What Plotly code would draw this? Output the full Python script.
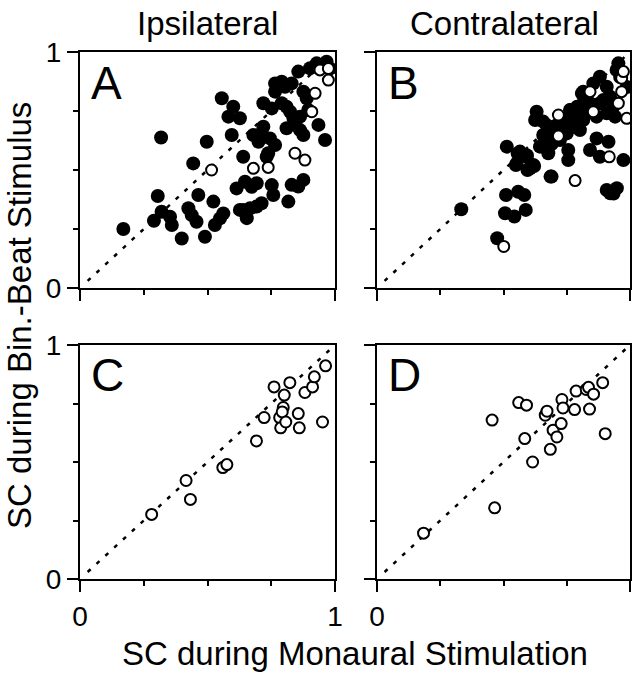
import plotly.graph_objects as go

# ---------------- data ----------------
col_titles = ["Ipsilateral", "Contralateral"]
panel_letters = ["A", "B", "C", "D"]
tick_vals = [0, 1]
tick_text = ["0", "1"]
minor_ticks = [0.25, 0.5, 0.75]
diag_x = [0.03, 0.985]
diag_y = [0.03, 0.985]

# Panel A (ipsilateral, top) filled
a_fill_x = [0.17, 0.29, 0.305, 0.318, 0.32, 0.353, 0.36, 0.399, 0.425, 0.438,
            0.457, 0.444, 0.464, 0.49, 0.497, 0.523, 0.529, 0.549, 0.562, 0.556,
            0.582, 0.601, 0.627, 0.595, 0.614, 0.64, 0.647, 0.673, 0.64, 0.667,
            0.693, 0.712, 0.752, 0.758, 0.732, 0.68, 0.719, 0.712, 0.745, 0.765,
            0.738, 0.719, 0.752, 0.791, 0.81, 0.824, 0.837, 0.863, 0.843, 0.81,
            0.863, 0.876, 0.935, 0.961, 0.765, 0.791, 0.804, 0.765, 0.83, 0.856,
            0.902, 0.928, 0.967, 0.889, 0.876, 0.817, 0.83, 0.856, 0.876, 0.693,
            0.98, 0.895, 0.654, 0.627, 0.7]
a_fill_y = [0.25, 0.285, 0.39, 0.638, 0.323, 0.302, 0.267, 0.21, 0.338, 0.309,
            0.281, 0.528, 0.394, 0.217, 0.62, 0.366, 0.267, 0.295, 0.316, 0.804,
            0.726, 0.768, 0.719, 0.648, 0.422, 0.556, 0.45, 0.429, 0.33, 0.338,
            0.345, 0.359, 0.436, 0.394, 0.556, 0.648, 0.683, 0.655, 0.634, 0.606,
            0.571, 0.783, 0.761, 0.783, 0.768, 0.747, 0.719, 0.726, 0.691, 0.677,
            0.669, 0.648, 0.691, 0.627, 0.867, 0.874, 0.853, 0.832, 0.867, 0.917,
            0.931, 0.952, 0.959, 0.804, 0.832, 0.366, 0.437, 0.43, 0.458, 0.444,
            0.93, 0.754, 0.296, 0.331, 0.62]
# Panel A open
a_open_x = [0.516, 0.68, 0.738, 0.843, 0.882, 0.909, 0.922, 0.941, 0.974, 0.974]
a_open_y = [0.5, 0.507, 0.511, 0.571, 0.542, 0.747, 0.825, 0.924, 0.93, 0.881]

# Panel B (contralateral, top) filled
b_fill_x = [0.333, 0.475, 0.51, 0.506, 0.543, 0.549, 0.558, 0.582, 0.588, 0.595,
            0.621, 0.686, 0.513, 0.565, 0.592, 0.552, 0.618, 0.605, 0.677, 0.69,
            0.756, 0.756, 0.631, 0.625, 0.657, 0.677, 0.657, 0.684, 0.644, 0.763,
            0.789, 0.815, 0.776, 0.802, 0.75, 0.829, 0.842, 0.881, 0.868, 0.895,
            0.855, 0.881, 0.908, 0.921, 0.934, 0.941, 0.947, 0.954, 0.908, 0.868,
            0.915, 0.842, 0.881, 0.974, 0.723, 0.737, 0.815, 0.908, 0.922, 0.948,
            0.935, 0.712, 0.732, 0.739, 0.765, 0.778, 0.791, 0.81, 0.817, 0.824,
            0.987, 0.961, 0.71, 0.7, 0.69, 0.671, 0.66, 0.556, 0.592, 0.745]
b_fill_y = [0.334, 0.211, 0.394, 0.317, 0.303, 0.521, 0.408, 0.394, 0.331, 0.5,
            0.517, 0.472, 0.599, 0.578, 0.556, 0.528, 0.521, 0.507, 0.571, 0.472,
            0.585, 0.542, 0.747, 0.712, 0.705, 0.669, 0.648, 0.627, 0.599, 0.754,
            0.726, 0.712, 0.683, 0.669, 0.655, 0.754, 0.783, 0.783, 0.726, 0.797,
            0.867, 0.895, 0.853, 0.811, 0.768, 0.726, 0.924, 0.952, 0.74, 0.634,
            0.62, 0.585, 0.556, 0.542, 0.627, 0.655, 0.832, 0.415, 0.401, 0.423,
            0.4, 0.683, 0.718, 0.669, 0.754, 0.711, 0.768, 0.824, 0.725, 0.796,
            0.852, 0.894, 0.69, 0.64, 0.61, 0.69, 0.648, 0.57, 0.563, 0.7]
# Panel B open
b_open_x = [0.501, 0.717, 0.717, 0.783, 0.842, 0.855, 0.918, 0.967, 0.967, 0.954, 0.987, 0.974]
b_open_y = [0.176, 0.733, 0.644, 0.455, 0.832, 0.747, 0.556, 0.889, 0.832, 0.783, 0.719, 0.917]

# Panel C (ipsilateral, bottom) open
c_open_x = [0.281, 0.416, 0.433, 0.56, 0.576, 0.692, 0.722, 0.761, 0.783, 0.787, 0.797,
            0.793, 0.801, 0.807, 0.823, 0.856, 0.86, 0.882, 0.912, 0.919, 0.951, 0.963]
c_open_y = [0.276, 0.421, 0.34, 0.476, 0.489, 0.59, 0.69, 0.821, 0.69, 0.646, 0.733,
            0.714, 0.786, 0.671, 0.839, 0.707, 0.646, 0.797, 0.821, 0.864, 0.671, 0.911]

# Panel D (contralateral, bottom) open
d_open_x = [0.184, 0.455, 0.465, 0.56, 0.591, 0.584, 0.615, 0.665, 0.672, 0.685, 0.696,
            0.711, 0.728, 0.731, 0.735, 0.781, 0.787, 0.827, 0.836, 0.84, 0.856, 0.892, 0.902]
d_open_y = [0.196, 0.679, 0.304, 0.754, 0.743, 0.6, 0.5, 0.7, 0.717, 0.554, 0.636,
            0.607, 0.664, 0.767, 0.731, 0.724, 0.803, 0.81, 0.819, 0.726, 0.79, 0.839, 0.621]

# ---------------- figure ----------------
W, H = 634, 673
ML, MR, MT, MB = 80, 4, 52, 94
PW, PH = W - ML - MR, H - MT - MB


def px(x):
    return (x - ML) / PW


def py(y):
    return (H - MB - y) / PH


FONT = "Liberation Sans, Arial, Helvetica, sans-serif"
fig = go.Figure()

panels = [
    ("x", "y", a_fill_x, a_fill_y, a_open_x, a_open_y),
    ("x2", "y2", b_fill_x, b_fill_y, b_open_x, b_open_y),
    ("x3", "y3", [], [], c_open_x, c_open_y),
    ("x4", "y4", [], [], d_open_x, d_open_y),
]

for xa, ya, fx, fy, ox, oy in panels:
    fig.add_trace(go.Scatter(x=diag_x, y=diag_y, mode="lines", xaxis=xa, yaxis=ya,
                             line=dict(color="black", width=2.5, dash="4px,8px"),
                             showlegend=False, hoverinfo="skip"))
    if fx:
        fig.add_trace(go.Scatter(x=fx, y=fy, mode="markers", xaxis=xa, yaxis=ya,
                                 marker=dict(size=14, color="black", line=dict(width=0)),
                                 showlegend=False))
    fig.add_trace(go.Scatter(x=ox, y=oy, mode="markers", xaxis=xa, yaxis=ya,
                             marker=dict(size=11, color="white",
                                         line=dict(width=2, color="black")),
                             showlegend=False))

xdom_l = [0, px(335)]
xdom_r = [px(377), 1]
ydom_t = [py(288), 1]
ydom_b = [0, py(345)]


def ax(domain, anchor, labels):
    return dict(domain=domain, anchor=anchor, range=[0, 1], showgrid=False,
                zeroline=False, showline=True, linecolor="black", linewidth=2,
                mirror=True, ticks="outside", tickvals=tick_vals, ticktext=tick_text,
                ticklen=11, tickwidth=2, tickcolor="black",
                minor=dict(tickvals=minor_ticks, ticks="outside", ticklen=5,
                           tickwidth=2, tickcolor="black"),
                showticklabels=labels, tickfont=dict(family=FONT, size=28, color="black"),
                automargin=False, fixedrange=True)


fig.update_layout(
    width=W, height=H, margin=dict(l=ML, r=MR, t=MT, b=MB, autoexpand=False),
    paper_bgcolor="white", plot_bgcolor="white",
    xaxis=ax(xdom_l, "y", False), yaxis=ax(ydom_t, "x", True),
    xaxis2=ax(xdom_r, "y2", False), yaxis2=ax(ydom_t, "x2", False),
    xaxis3=ax(xdom_l, "y3", True), yaxis3=ax(ydom_b, "x3", True),
    xaxis4=ax(xdom_r, "y4", True), yaxis4=ax(ydom_b, "x4", False),
)

TF = 33
annots = []
annots.append(dict(text=col_titles[0], x=px(207), y=py(24), xref="paper", yref="paper",
                   showarrow=False, font=dict(family=FONT, size=TF, color="black"),
                   xanchor="center", yanchor="middle"))
annots.append(dict(text=col_titles[1], x=px(504), y=py(24), xref="paper", yref="paper",
                   showarrow=False, font=dict(family=FONT, size=TF, color="black"),
                   xanchor="center", yanchor="middle"))
annots.append(dict(text="SC during Monaural Stimulation", x=px(355), y=py(653),
                   xref="paper", yref="paper", showarrow=False,
                   font=dict(family=FONT, size=TF, color="black"),
                   xanchor="center", yanchor="middle"))
annots.append(dict(text="SC during Bin.-Beat Stimulus", x=px(19), y=py(316),
                   xref="paper", yref="paper", showarrow=False, textangle=-90,
                   font=dict(family=FONT, size=TF, color="black"),
                   xanchor="center", yanchor="middle"))
letter_pos = [(89, 83), (386, 83), (89, 375), (386, 375)]
for letter, (lx, ly) in zip(panel_letters, letter_pos):
    annots.append(dict(text=letter, x=px(lx), y=py(ly), xref="paper", yref="paper",
                       showarrow=False, font=dict(family=FONT, size=46, color="black"),
                       xanchor="left", yanchor="middle"))
fig.update_layout(annotations=annots)

fig.write_html("out.html", config={"displayModeBar": False, "staticPlot": True},
               post_script="document.body.style.margin='0px';document.body.style.overflow='hidden';")
